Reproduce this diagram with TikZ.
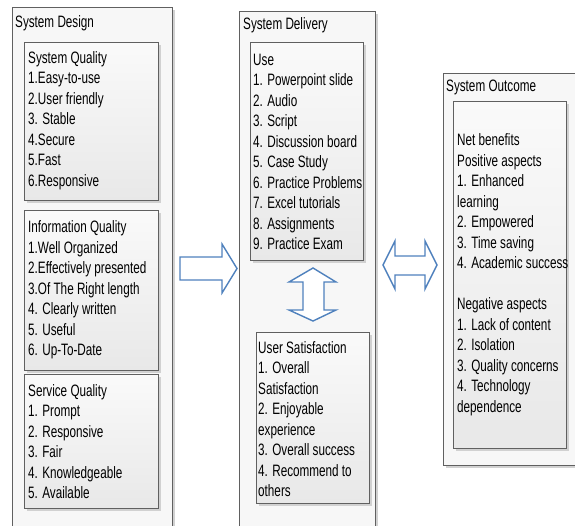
\documentclass[tikz,border=0pt]{standalone}
\usepackage{fontspec}
\setmainfont[FakeStretch=0.71]{Liberation Sans}
\definecolor{arrowblue}{RGB}{79,129,189}
\definecolor{boxgray}{RGB}{96,96,96}
\newcommand{\lh}{20.5}
\tikzset{
  outerbox/.style={draw=boxgray,line width=0.9pt,fill=black!3},
  innerbox/.style={draw=boxgray,line width=0.9pt,top color=black!2,bottom color=black!9},
  boxshadow/.style={fill=black!18},
  txt/.style={anchor=base west,inner sep=0pt,font=\fontsize{16.5}{20.5}\selectfont},
  blockarrow/.style={draw=arrowblue,line width=1.4pt,fill=white,line join=miter}
}

\begin{document}
\begin{tikzpicture}[x=1pt,y=-1pt]
\clip (0,0) rectangle (575,525);
% outer frames
\foreach \a/\b/\c/\d in {12/7/172/540, 239/11/375/540, 443/73/590/465}{
  \fill[boxshadow] (\a+2.5,\b+2.5) rectangle (\c+2.5,\d+2.5);
  \filldraw[outerbox] (\a,\b) rectangle (\c,\d);
}
% inner boxes
\foreach \a/\b/\c/\d in {24/42/158/200, 24/210/158/370, 24/374/158/508,
                         250/42/363/260, 256/332/369/503, 453/101/566/448}{
  \fill[boxshadow] (\a+2.5,\b+2.5) rectangle (\c+2.5,\d+2.5);
  \filldraw[innerbox] (\a,\b) rectangle (\c,\d);
}
% titles
\node[txt] (design) at (15,27) {System Design};
\node[txt] (delivery) at (243,29) {System Delivery};
\node[txt] (outcome) at (446,91) {System Outcome};
% system design
\foreach \t [count=\i from 0] in {System Quality,1.Easy-to-use,2.User friendly,
    3. Stable,4.Secure,5.Fast,6.Responsive}
  \node[txt] (sq\i) at (28,63+\lh*\i) {\t};
\foreach \t [count=\i from 0] in {Information Quality,1.Well Organized,
    2.Effectively presented,3.Of The Right length,4. Clearly written,
    5. Useful,6. Up-To-Date}
  \node[txt] (iq\i) at (28,232.5+\lh*\i) {\t};
\foreach \t [count=\i from 0] in {Service Quality,1. Prompt,2. Responsive,
    3. Fair,4. Knowledgeable,5. Available}
  \node[txt] (svq\i) at (28,396+\lh*\i) {\t};
% system delivery
\foreach \t [count=\i from 0] in {Use,1. Powerpoint slide,2. Audio,3. Script,
    4. Discussion board,5. Case Study,6. Practice Problems,7. Excel tutorials,
    8. Assignments,9. Practice Exam}
  \node[txt] (use\i) at (253,65+\lh*\i) {\t};
\foreach \t [count=\i from 0] in {User Satisfaction,1. Overall,Satisfaction,
    2. Enjoyable,experience,3. Overall success,4. Recommend to,others}
  \node[txt] (us\i) at (258,353+\lh*\i) {\t};
% system outcome
\foreach \t [count=\i from 0] in {Net benefits,Positive aspects,1. Enhanced,
    learning,2. Empowered,3. Time saving,4. Academic success}
  \node[txt] (pos\i) at (457,145.5+\lh*\i) {\t};
\foreach \t [count=\i from 0] in {Negative aspects,1. Lack of content,
    2. Isolation,3. Quality concerns,4. Technology,dependence}
  \node[txt] (neg\i) at (457,309.5+\lh*\i) {\t};
% arrows
\filldraw[blockarrow] (180,257) -- (222,257) -- (222,244) -- (237,268.5)
  -- (222,293) -- (222,280) -- (180,280) -- cycle;
\filldraw[blockarrow] (303,282) -- (289,282) -- (313,268) -- (336,282)
  -- (324,282) -- (324,310) -- (336,310) -- (313,321) -- (289,310)
  -- (303,310) -- cycle;
\filldraw[blockarrow] (395,256) -- (395,241) -- (383,265) -- (395,289)
  -- (395,275) -- (425,275) -- (425,289) -- (437,265) -- (425,241)
  -- (425,256) -- cycle;
\end{tikzpicture}
\end{document}
